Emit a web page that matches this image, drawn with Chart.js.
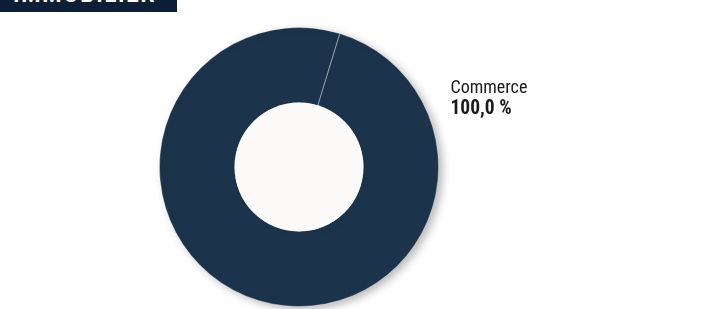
<!DOCTYPE html>
<html>
<head>
<meta charset="utf-8">
<script src="https://cdn.jsdelivr.net/npm/chart.js@4/dist/chart.umd.min.js"></script>
<style>
  html, body { margin: 0; padding: 0; background: #ffffff; overflow: hidden; }
  #wrap { position: relative; width: 706px; height: 309px; }
  #title {
    position: absolute; left: 0; top: -30px; width: 164px; height: 28px;
    padding: 14px 0 0 13px; box-sizing: content-box;
    background: #0c1f36; color: #ffffff;
    font: bold 22px Roboto, "Liberation Sans", sans-serif; line-height: 22px;
    letter-spacing: 1.8px; white-space: nowrap; overflow: hidden;
  }
  canvas { position: absolute; left: 0; top: 0; }
</style>
</head>
<body>
<div id="wrap">
  <canvas id="c" width="706" height="309"></canvas>
  <div id="title">IMMOBILIER</div>
</div>
<script>
const categories = ['Commerce'];
const shares = [100];
const shareLabels = ['100,0 %'];

const NAVY = '#1b334b';
const HOLE = '#fbfaf8';

const shadowPlugin = {
  id: 'shadow',
  beforeDatasetDraw(chart) {
    const ctx = chart.ctx;
    ctx.save();
    ctx.shadowColor = 'rgba(0,0,0,0.28)';
    ctx.shadowBlur = 8;
    ctx.shadowOffsetX = 4;
    ctx.shadowOffsetY = 3;
  },
  afterDatasetDraw(chart) {
    chart.ctx.restore();
  }
};

const holePlugin = {
  id: 'hole',
  afterDatasetsDraw(chart) {
    const arc = chart.getDatasetMeta(0).data[0];
    if (!arc) return;
    const ctx = chart.ctx;
    ctx.save();
    ctx.beginPath();
    ctx.arc(arc.x, arc.y, arc.innerRadius + 0.3, 0, Math.PI * 2);
    ctx.fillStyle = HOLE;
    ctx.fill();
    ctx.restore();
  }
};

const labelPlugin = {
  id: 'sliceLabels',
  afterDraw(chart) {
    const arc = chart.getDatasetMeta(0).data[0];
    if (!arc) return;
    const ctx = chart.ctx;
    const x = arc.x + arc.outerRadius + 12;
    const y = arc.y - arc.outerRadius * 0.53;
    ctx.save();
    ctx.fillStyle = '#1a1a1a';
    ctx.textAlign = 'left';
    ctx.textBaseline = 'alphabetic';
    ctx.font = '18px "Liberation Sans Narrow", "Roboto Condensed", Roboto, sans-serif';
    ctx.fillText(categories[0], x, y);
    ctx.font = 'bold 19.5px "Liberation Sans Narrow", "Roboto Condensed", Roboto, sans-serif';
    ctx.fillText(shareLabels[0], x, y + 21);
    ctx.restore();
  }
};

new Chart(document.getElementById('c'), {
  type: 'doughnut',
  data: {
    labels: categories,
    datasets: [{
      data: shares,
      backgroundColor: [NAVY],
      borderColor: ['rgba(255,255,255,0.32)'],
      borderWidth: 1
    }]
  },
  options: {
    responsive: false,
    animation: false,
    rotation: 17,
    cutout: '46%',
    layout: { padding: { left: 159, right: 267, top: 27, bottom: 2 } },
    plugins: { legend: { display: false }, tooltip: { enabled: false } }
  },
  plugins: [shadowPlugin, holePlugin, labelPlugin]
});
</script>
</body>
</html>
